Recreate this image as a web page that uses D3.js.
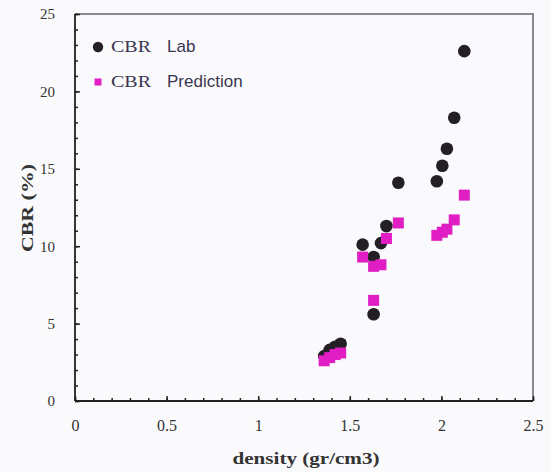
<!DOCTYPE html>
<html><head><meta charset="utf-8">
<script src="https://cdn.jsdelivr.net/npm/d3@7"></script>
<style>
html,body{margin:0;padding:0;background:#fafafc;}
svg{display:block;}
</style></head>
<body>
<script>
// ---- data ----
const density = [1.36, 1.39, 1.42, 1.45, 1.57, 1.63, 1.63, 1.67, 1.70, 1.765, 1.975, 2.005, 2.03, 2.07, 2.125];
const cbrLab  = [2.9, 3.3, 3.5, 3.7, 10.1, 5.6, 9.3, 10.2, 11.3, 14.1, 14.2, 15.2, 16.3, 18.3, 22.6];
const cbrPred = [2.6, 2.8, 3.0, 3.1, 9.3, 6.5, 8.7, 8.8, 10.5, 11.5, 10.7, 10.9, 11.1, 11.7, 13.3];
const xTicks = [0, 0.5, 1, 1.5, 2, 2.5];
const xTickLabels = ["0", "0.5", "1", "1.5", "2", "2.5"];
const yTicks = [0, 5, 10, 15, 20, 25];
const yTickLabels = ["0", "5", "10", "15", "20", "25"];
const seriesNames = ["Lab", "Prediction"];
const xTitle = "density (gr/cm3)";
const yTitle = "CBR (%)";

const W = 551, H = 472;
const L = 75, R = 533, T = 14, B = 401;
const svg = d3.select("body").append("svg").attr("width", W).attr("height", H);
svg.append("rect").attr("width", W).attr("height", H).attr("fill", "#fafafc");

const x = d3.scaleLinear().domain([0, 2.5]).range([L, R]);
const y = d3.scaleLinear().domain([0, 25]).range([B, T]);

// frame (top/right gray)
svg.append("path").attr("d", `M${L},${T}H${R}V${B}`).attr("fill", "none")
  .attr("stroke", "#8a8a90").attr("stroke-width", 2);

// minor ticks
const xMinor = d3.range(0, 2.501, 0.1).map(v => +v.toFixed(2));
const yMinor = d3.range(0, 25.01, 1);
svg.append("g").attr("transform", `translate(0,${B})`)
  .call(d3.axisBottom(x).tickValues(xMinor).tickSize(-3).tickFormat(""))
  .call(g => { g.select(".domain").remove(); g.selectAll("line").attr("stroke", "#222").attr("stroke-width", 1.5); });
svg.append("g").attr("transform", `translate(${L},0)`)
  .call(d3.axisLeft(y).tickValues(yMinor).tickSize(-3).tickFormat(""))
  .call(g => { g.select(".domain").remove(); g.selectAll("line").attr("stroke", "#222").attr("stroke-width", 1.5); });

// major axes
const xa = svg.append("g").attr("transform", `translate(0,${B})`)
  .call(d3.axisBottom(x).tickValues(xTicks).tickSize(-5).tickPadding(19)
    .tickFormat((d, i) => xTickLabels[i]));
xa.select(".domain").attr("stroke", "#222").attr("stroke-width", 1.8).attr("d", `M${L},0H${R}`);
xa.selectAll("line").attr("stroke", "#222").attr("stroke-width", 1.5);
xa.selectAll("text").attr("font-family", "'Liberation Serif', 'DejaVu Serif', serif")
  .attr("font-size", 16).attr("fill", "#333");

const ya = svg.append("g").attr("transform", `translate(${L},0)`)
  .call(d3.axisLeft(y).tickValues(yTicks).tickSize(-5).tickPadding(20)
    .tickFormat((d, i) => yTickLabels[i]));
ya.select(".domain").attr("stroke", "#222").attr("stroke-width", 1.8).attr("d", `M0,${B}V${T}`);
ya.selectAll("line").attr("stroke", "#222").attr("stroke-width", 1.5);
ya.selectAll("text").attr("font-family", "'Liberation Serif', 'DejaVu Serif', serif")
  .attr("font-size", 15).attr("fill", "#333");

// titles
svg.append("text").attr("x", 306).attr("y", 464).attr("text-anchor", "middle")
  .attr("font-family", "'Liberation Serif', serif").attr("font-weight", "bold")
  .attr("font-size", 17).attr("fill", "#333")
  .attr("textLength", 147).attr("lengthAdjust", "spacingAndGlyphs").text(xTitle);
svg.append("text").attr("transform", "translate(33,208) rotate(-90)").attr("text-anchor", "middle")
  .attr("font-family", "'Liberation Serif', serif").attr("font-weight", "bold")
  .attr("font-size", 17).attr("fill", "#333")
  .attr("textLength", 88).attr("lengthAdjust", "spacingAndGlyphs").text(yTitle);

// data points
const pts = density.map((d, i) => ({ d, lab: cbrLab[i], pred: cbrPred[i] }));
svg.append("g").selectAll("circle").data(pts).join("circle")
  .attr("cx", p => x(p.d)).attr("cy", p => y(p.lab)).attr("r", 6.3)
  .attr("fill", "#231f24");
const sq = 11;
svg.append("g").selectAll("rect").data(pts).join("rect")
  .attr("x", p => x(p.d) - sq / 2).attr("y", p => y(p.pred) - sq / 2)
  .attr("width", sq).attr("height", sq).attr("fill", "#e01ec4");

// legend
const lg = svg.append("g");
lg.append("circle").attr("cx", 98).attr("cy", 47).attr("r", 5.2).attr("fill", "#231f24");
lg.append("rect").attr("x", 94.5).attr("y", 78.5).attr("width", 7).attr("height", 7).attr("fill", "#e01ec4");
[[52, seriesNames[0]], [87, seriesNames[1]]].forEach(([by, name]) => {
  lg.append("text").attr("x", 111).attr("y", by)
    .attr("font-family", "'Liberation Serif', serif").attr("font-size", 17).attr("fill", "#3a3550")
    .attr("textLength", 40).attr("lengthAdjust", "spacingAndGlyphs").text("CBR");
  lg.append("text").attr("x", 167).attr("y", by)
    .attr("font-family", "'Liberation Sans', Arial, sans-serif").attr("font-size", 17).attr("fill", "#3a3550")
    .text(name);
});
</script>
</body></html>
